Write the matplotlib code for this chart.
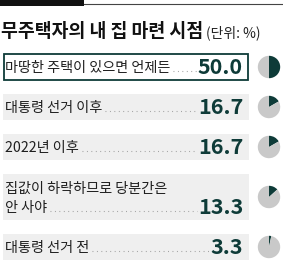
import matplotlib
matplotlib.use('Agg')
import matplotlib.pyplot as plt
from matplotlib.patches import Rectangle

plt.rcParams['font.family'] = ['Noto Sans CJK KR', 'DejaVu Sans']

title = '무주택자의 내 집 마련 시점'
unit = '(단위: %)'
labels = ['마땅한 주택이 있으면 언제든', '대통령 선거 이후', '2022년 이후',
          '집값이 하락하므로 당분간은\n안 사야', '대통령 선거 전']
values = [50.0, 16.7, 16.7, 13.3, 3.3]

dark = '#0e3b38'
pie_gray = '#c9c9c9'
box_gray = '#efefef'

W, H = 283, 262
fig = plt.figure(figsize=(W / 100, H / 100), dpi=100)
ax = fig.add_axes([0, 0, 1, 1])
ax.set_xlim(0, W)
ax.set_ylim(H, 0)
ax.axis('off')

# header bar
ax.add_patch(Rectangle((0, 0), 84, 6, color='#111111', lw=0))
ax.plot([84, W], [4, 4], color='#444444', lw=0.8)

t = ax.text(1, 37, title, fontsize=13.2, fontweight='bold', color='#111111', va='baseline')
fig.canvas.draw()
r = fig.canvas.get_renderer()
bb = t.get_window_extent(r).transformed(ax.transData.inverted())
ax.text(bb.x1 + 3, 37, unit, fontsize=10, color='#222222', va='baseline')

# row layout (top, height)
tops = [54, 94, 134, 174, 234]
heights = [26, 26, 26, 46, 26]
x0, x1 = 3, 249
val_x = 243
pie_cx, pie_r = 269, 14

for i, (lab, v) in enumerate(zip(labels, values)):
    top, h = tops[i], heights[i]
    if i == 0:
        ax.add_patch(Rectangle((x0 + 0.75, top), x1 - x0 - 1.5, h, facecolor='white',
                               edgecolor=dark, lw=1.3))
    else:
        ax.add_patch(Rectangle((x0, top), x1 - x0, h, facecolor=box_gray, lw=0))
    lines = lab.split('\n')
    base = top + h - 8
    n = len(lines)
    last = None
    for k, ln in enumerate(lines):
        yb = base - (n - 1 - k) * 19
        last = ax.text(5, yb, ln, fontsize=10.2, color='#1e1e1e', va='baseline')
    vt = ax.text(val_x, base + 2, f'{v:.1f}', fontsize=15.5, fontweight='bold',
                 color=dark, ha='right', va='baseline')
    fig.canvas.draw()
    inv = ax.transData.inverted()
    lb = last.get_window_extent(r).transformed(inv)
    vb = vt.get_window_extent(r).transformed(inv)
    ax.plot([lb.x1 + 3, vb.x0 - 1], [base - 1.5, base - 1.5], color='#9a9a9a', lw=0.8,
            ls=(0, (0.8, 3.2)))
    cy = top + h / 2
    pax = fig.add_axes([(pie_cx - pie_r) / W, 1 - (cy + pie_r) / H, 2 * pie_r / W, 2 * pie_r / H])
    pax.pie([v, 100 - v], colors=[dark, pie_gray], startangle=90, counterclock=False,
            wedgeprops=dict(lw=0))
    pax.set_aspect('equal')

fig.savefig('out.png', dpi=100)
